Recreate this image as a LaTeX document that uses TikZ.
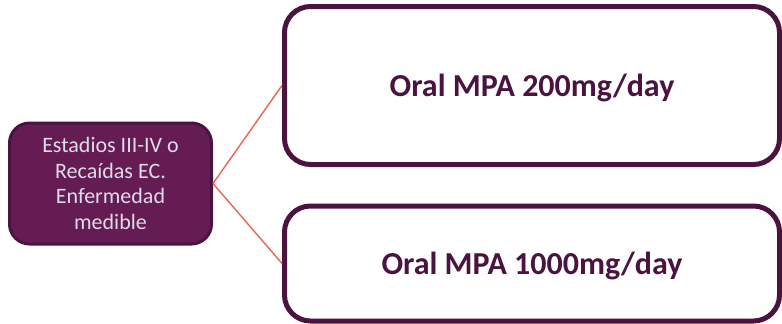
\documentclass[tikz,border=0pt]{standalone}
\usepackage{fontspec}
\setmainfont{Carlito}
\definecolor{plum}{HTML}{641C52}
\definecolor{plumdark}{HTML}{4B1440}
\definecolor{paletext}{HTML}{DCDCEA}
\definecolor{salmon}{HTML}{EC6450}
\tikzset{
  sourcebox/.style={draw=plumdark, fill=plum, line width=3pt, rounded corners=20pt,
    minimum width=202pt, minimum height=121pt, inner sep=0pt,
    text=paletext, align=center, font=\fontsize{22}{25.7}\selectfont},
  dosebox/.style={draw=plumdark, fill=white, line width=5pt, rounded corners=26pt,
    minimum width=495pt, inner sep=0pt, text depth=1pt,
    text=plumdark, font=\fontsize{32}{36}\selectfont\bfseries},
  link/.style={draw=salmon, line width=1.4pt}
}
\begin{document}
\begin{tikzpicture}[x=1pt, y=-1pt]
  \useasboundingbox (0,0) rectangle (782,324);
  \node[sourcebox] (stage) at (110.5,183.5)
    {Estadios III-IV o\\Recaídas EC.\\Enfermedad\\medible};
  \node[dosebox, minimum height=158pt] (low) at (532,85.5) {Oral MPA 200mg/day};
  \node[dosebox, minimum height=115pt] (high) at (532,263.5) {Oral MPA 1000mg/day};
  \draw[link] (stage.east) -- (low.west);
  \draw[link] (stage.east) -- (high.west);
\end{tikzpicture}
\end{document}
